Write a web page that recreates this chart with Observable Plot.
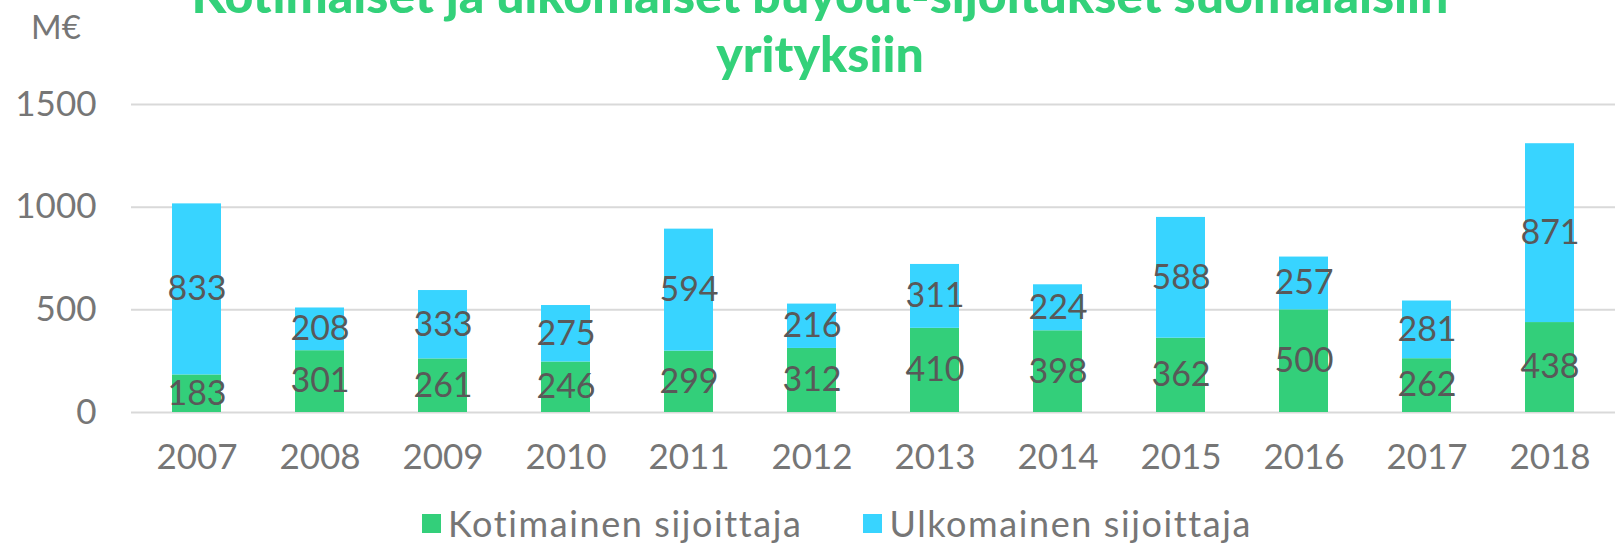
<!DOCTYPE html>
<html>
<head>
<meta charset="utf-8">
<script src="https://cdn.jsdelivr.net/npm/d3@7"></script>
<script src="https://cdn.jsdelivr.net/npm/@observablehq/plot@0.6"></script>
<style>
  html, body { margin: 0; padding: 0; background: #fff; }
  #wrap { position: relative; width: 1616px; height: 546px; overflow: hidden; font-family: Lato, sans-serif; }
  #title { position: absolute; left: 12px; width: 1616px; top: -35px; text-align: center; font-weight: 900; font-size: 50px; line-height: 59px; color: #33d17a; white-space: nowrap; }
  #unit { position: absolute; left: 31px; top: 6px; font-size: 33px; color: #767676; }
  #chart { position: absolute; left: 0; top: 0; }
  #legend { position: absolute; top: 505px; left: 422px; display: flex; font-size: 36px; line-height: 36px; letter-spacing: 1.6px; color: #767676; white-space: nowrap; }
  .item { display: flex; align-items: center; }
  .sw { width: 19px; height: 19px; margin-right: 7px; }
</style>
</head>
<body>
<div id="wrap">
  <div id="chart"></div>
  <div id="title">Kotimaiset ja ulkomaiset buyout-sijoitukset suomalaisiin<br>yrityksiin</div>
  <div id="unit">M€</div>
  <div id="legend"></div>
</div>
<script>
const years = ["2007","2008","2009","2010","2011","2012","2013","2014","2015","2016","2017","2018"];
const seriesNames = ["Kotimainen sijoittaja", "Ulkomainen sijoittaja"];
const domestic = [183, 301, 261, 246, 299, 312, 410, 398, 362, 500, 262, 438];
const foreign = [833, 208, 333, 275, 594, 216, 311, 224, 588, 257, 281, 871];
const colors = ["#33cf7a", "#38d4ff"];
const yTicks = [0, 500, 1000, 1500];

const data = [];
years.forEach((y, i) => {
  data.push({year: y, series: seriesNames[0], value: domestic[i]});
  data.push({year: y, series: seriesNames[1], value: foreign[i]});
});

const chart = Plot.plot({
  width: 1616,
  height: 490,
  marginTop: 104,
  marginBottom: 78,
  marginLeft: 131,
  marginRight: 1,
  style: {fontFamily: "Lato, sans-serif", color: "#767676", background: "transparent"},
  x: {domain: years, paddingInner: 0.6, paddingOuter: 0.3, label: null},
  y: {domain: [0, 1500], label: null},
  color: {domain: seriesNames, range: colors},
  marks: [
    Plot.gridY(yTicks, {stroke: "#d9d9d9", strokeWidth: 2, strokeOpacity: 1}),
    Plot.barY(data, {x: "year", y: "value", fill: "series", z: "series"}),
    Plot.text(data, Plot.stackY({x: "year", y: "value", z: "series", text: d => String(d.value), fill: "#595959", fontSize: 34})),
    Plot.axisY({ticks: yTicks, tickFormat: d => String(d), tickSize: 0, tickPadding: 35, fontSize: 35, label: null}),
    Plot.axisX({tickSize: 0, tickPadding: 32, fontSize: 35, label: null})
  ]
});
document.getElementById("chart").appendChild(chart);

const legend = document.getElementById("legend");
seriesNames.forEach((name, i) => {
  const item = document.createElement("div");
  item.className = "item";
  if (i > 0) item.style.marginLeft = "61px";
  const sw = document.createElement("span");
  sw.className = "sw";
  sw.style.background = colors[i];
  const t = document.createElement("span");
  t.textContent = name;
  item.appendChild(sw);
  item.appendChild(t);
  legend.appendChild(item);
});
</script>
</body>
</html>
